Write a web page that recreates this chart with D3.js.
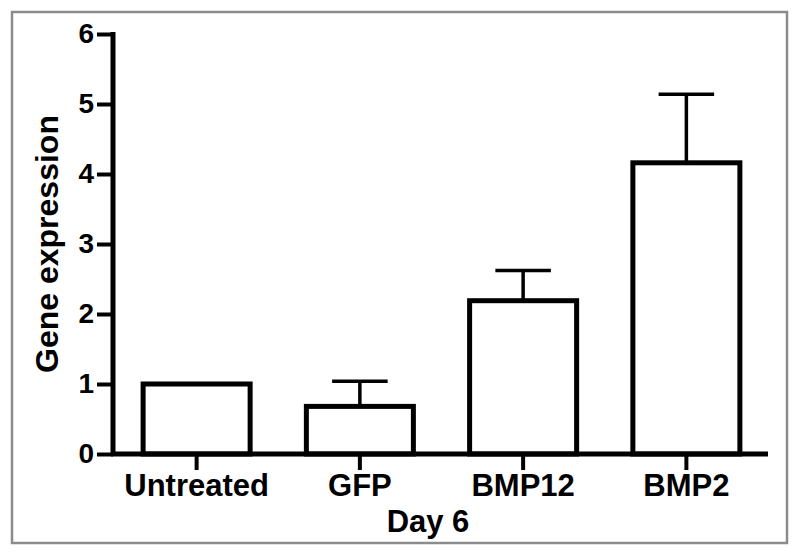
<!DOCTYPE html>
<html>
<head>
<meta charset="utf-8">
<script src="https://cdn.jsdelivr.net/npm/d3@7"></script>
<style>
  body { margin: 0; background: #fff; }
  text { font-family: "Liberation Sans", Arial, sans-serif; font-weight: bold; }
</style>
</head>
<body>
<svg id="chart" width="800" height="556"></svg>
<script>
const categories = ["Untreated", "GFP", "BMP12", "BMP2"];
const means = [1.0, 0.68, 2.19, 4.16];
const errors = [0, 0.36, 0.43, 0.98];
const yTicks = [0, 1, 2, 3, 4, 5, 6];

const svg = d3.select("#chart");
const width = +svg.attr("width");
const height = +svg.attr("height");
const margin = { top: 34, right: 32, bottom: 102, left: 115 };

// outer frame
svg.append("rect")
  .attr("x", 12).attr("y", 12)
  .attr("width", width - 25).attr("height", height - 25)
  .attr("fill", "none")
  .attr("stroke", "#8c8c8c")
  .attr("stroke-width", 2.5);

const x = d3.scaleBand()
  .domain(categories)
  .range([margin.left, width - margin.right])
  .paddingInner(0.32)
  .paddingOuter(0.16);

const y = d3.scaleLinear()
  .domain([0, 6])
  .range([height - margin.bottom, margin.top]);

const data = categories.map((c, i) => ({ name: c, mean: means[i], err: errors[i] }));

// error bars (drawn under bars so the stem starts at the bar top)
const eb = svg.append("g").attr("stroke", "#000").attr("stroke-width", 3.5);
data.filter((d) => d.err > 0).forEach((d) => {
  const cx = x(d.name) + x.bandwidth() / 2;
  eb.append("line")
    .attr("x1", cx).attr("x2", cx)
    .attr("y1", y(d.mean)).attr("y2", y(d.mean + d.err));
  eb.append("line")
    .attr("x1", cx - x.bandwidth() / 4).attr("x2", cx + x.bandwidth() / 4)
    .attr("y1", y(d.mean + d.err)).attr("y2", y(d.mean + d.err));
});

// bars
svg.append("g")
  .selectAll("rect")
  .data(data)
  .enter()
  .append("rect")
  .attr("x", (d) => x(d.name) + 2)
  .attr("y", (d) => y(d.mean))
  .attr("width", x.bandwidth() - 4)
  .attr("height", (d) => y(0) - y(d.mean))
  .attr("fill", "#fff")
  .attr("stroke", "#000")
  .attr("stroke-width", 5);

// y axis
const yAxis = svg.append("g")
  .attr("transform", `translate(${margin.left - 2},0)`)
  .call(d3.axisLeft(y).tickValues(yTicks).tickSize(16).tickPadding(3).tickFormat(d3.format("d")));
yAxis.select(".domain").attr("stroke-width", 5).attr("d", `M0,${y(6) - 2}V${y(0)}`);
yAxis.selectAll(".tick line").attr("stroke-width", 4);
yAxis.selectAll(".tick text").attr("font-size", 28).attr("fill", "#000");

// x axis
const xAxis = svg.append("g")
  .attr("transform", `translate(0,${y(0)})`)
  .call(d3.axisBottom(x).tickSize(16));
xAxis.select(".domain").attr("stroke-width", 5)
  .attr("d", `M${margin.left - 4},0H${width - margin.right}`);
xAxis.selectAll(".tick line").attr("stroke-width", 4);
xAxis.selectAll(".tick text")
  .attr("font-size", 31)
  .attr("fill", "#000")
  .attr("y", 42)
  .attr("dy", 0);

// axis titles
svg.append("text")
  .attr("x", 428)
  .attr("y", 532)
  .attr("text-anchor", "middle")
  .attr("font-size", 31)
  .text("Day 6");

svg.append("text")
  .attr("transform", `translate(58,${(y(0) + y(6)) / 2}) rotate(-90)`)
  .attr("text-anchor", "middle")
  .attr("font-size", 32)
  .text("Gene expression");
</script>
</body>
</html>
